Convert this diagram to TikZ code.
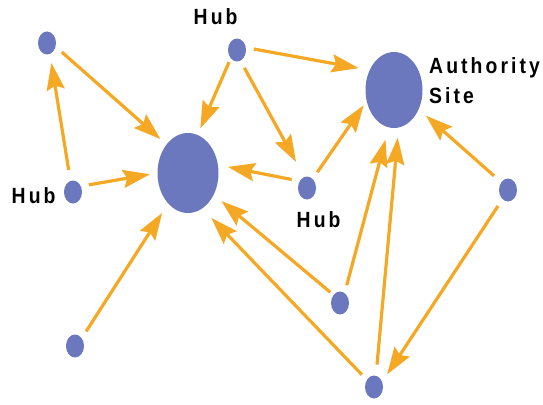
\documentclass[tikz,border=0pt]{standalone}
\usepackage{fontspec}
\setmainfont{Liberation Sans}
\newfontfamily\hubfont[LetterSpace=14,FakeStretch=0.88]{Liberation Sans}
\usepackage{xcolor}
\usetikzlibrary{arrows.meta,shapes.geometric}

\definecolor{siteblue}{RGB}{107,120,190}
\definecolor{linkorange}{RGB}{245,168,35}

\tikzset{
    sitenode/.style={ellipse, fill=siteblue, inner sep=0pt, minimum width=18pt, minimum height=23pt},
    bignode/.style={sitenode, minimum width=61pt, minimum height=80pt},
    linkarrow/.style={linkorange, line width=3.2pt, -{Stealth[length=27pt,width=18pt,inset=4pt]}, shorten <=8pt, shorten >=10pt},
    hublabel/.style={font=\hubfont\bfseries\fontsize{22}{30}\selectfont, inner sep=0pt}
}

\begin{document}
\begin{tikzpicture}[x=1pt,y=-1pt]
    \useasboundingbox (0,0) rectangle (543,404);

    % Pages
    \node[sitenode] (topleft) at (47,43) {};
    \node[sitenode] (hubtop) at (237,50) {};
    \node[sitenode] (hubleft) at (73,192) {};
    \node[sitenode] (hubmid) at (307,188) {};
    \node[sitenode] (right) at (508,190) {};
    \node[sitenode] (botleft) at (75,346) {};
    \node[sitenode] (lowmid) at (340,303) {};
    \node[sitenode] (bottom) at (374,387) {};
    \node[bignode] (core) at (188,173) {};
    \node[bignode, minimum width=57pt, minimum height=76pt] (authority) at (394,90) {};

    % Labels
    \node[hublabel, anchor=base west] (hubtoplabel) at (193.5,25) {Hub};
    \node[hublabel, anchor=base west] (hubleftlabel) at (11.5,203) {Hub};
    \node[hublabel, anchor=base west] (hubmidlabel) at (296.5,227) {Hub};
    \node[hublabel, anchor=north west, align=left] (authlabel) at (429,57) {Authority\\Site};

    % Links into the big page
    \draw[linkarrow, shorten >=8pt] (topleft.-23) -- (core.127);
    \draw[linkarrow, shorten >=7.5pt] (hubleft.36) -- (core.180);
    \draw[linkarrow, shorten <=4pt, shorten >=7pt] (hubtop.-127) -- (core.76);
    \draw[linkarrow] (hubmid.137) -- (core.15);
    \draw[linkarrow, shorten >=11pt] (botleft.49) -- (core.-123);
    \draw[linkarrow, shorten <=4pt] (lowmid.129) -- (core.-40);
    \draw[linkarrow, shorten <=7pt, shorten >=13pt] (bottom.135) -- (core.-68);

    % Links into the authority site
    \draw[linkarrow, shorten >=11pt] (hubtop.15) -- (authority.141);
    \draw[linkarrow, shorten >=5pt] (hubmid.58) -- (authority.-158);
    \draw[linkarrow, shorten >=12.5pt] (lowmid.65) -- (authority.-98);
    \draw[linkarrow, shorten <=11pt] (bottom.80) -- (authority.-83);
    \draw[linkarrow, shorten <=9.5pt, shorten >=9.5pt] (right.131) -- (authority.-38);

    % Other links
    \draw[linkarrow, shorten <=11pt, shorten >=9pt] (hubleft.103) -- (topleft.-75);
    \draw[linkarrow, shorten >=17pt] (hubtop.-72) -- (hubmid.104);
    \draw[linkarrow, shorten >=9pt] (right.-121) -- (bottom.32);
\end{tikzpicture}
\end{document}
